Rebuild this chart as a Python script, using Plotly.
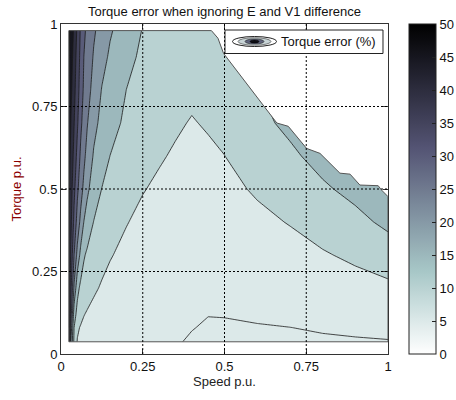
import plotly.graph_objects as go

# ---------------- data ----------------
speed = [0.024, 0.03, 0.04, 0.05, 0.06, 0.07, 0.08, 0.1, 0.125, 0.15, 0.2, 0.25,
         0.3, 0.35, 0.4, 0.45, 0.5, 0.6, 0.7, 0.8, 0.9, 1.0]
torque = [0.037, 0.08, 0.12, 0.2, 0.3, 0.4, 0.5, 0.6, 0.7, 0.8, 0.9, 0.98]

err_t037 = [44, 25, 14.0, 9.7, 9.2, 8.8, 8.5, 8.0, 7.5, 7.1, 6.5, 6.0, 5.6, 5.2, 4.75, 4.5, 4.4, 4.45, 4.55, 4.65, 4.75, 4.85]
err_t08 = [45, 28.3, 15.0, 10.8, 9.6, 9.1, 8.8, 8.3, 7.8, 7.4, 6.9, 6.36, 5.94, 5.52, 5.08, 4.77, 4.74, 4.85, 4.98, 5.24, 5.48, 5.77]
err_t12 = [45.5, 32.5, 17.3, 13.3, 11.6, 10.15, 9.6, 8.9, 8.3, 7.9, 7.3, 6.72, 6.27, 5.83, 5.38, 5.05, 5.09, 5.33, 5.65, 6.03, 6.43, 6.87]
err_t20 = [46, 36.4, 24.3, 16.5, 13.9, 12.8, 11.9, 10.6, 9.6, 9.1, 8.1, 7.44, 6.94, 6.46, 5.99, 5.77, 5.9, 6.4, 6.94, 7.62, 8.33, 9.07]
err_t30 = [46.2, 39.2, 30.0, 23.4, 18.67, 15.5, 14.2, 12.6, 11.2, 10.2, 9.2, 8.34, 7.78, 7.26, 6.75, 6.68, 6.92, 7.73, 8.55, 9.6, 10.83, 12.43]
err_t40 = [46.3, 41.3, 33.75, 28.15, 23.73, 19.9, 18.1, 14.88, 13.3, 12.0, 10.14, 9.24, 8.62, 8.05, 7.52, 7.59, 7.94, 9.07, 10.2, 11.9, 13.6, 16.1]
err_t50 = [46.4, 42.5, 36.25, 31.0, 27.14, 23.8, 20.9, 17.9, 14.9, 13.6, 11.7, 10.16, 9.46, 8.85, 8.28, 8.5, 8.95, 10.48, 12.16, 14.29, 16.4, 19.7]
err_t60 = [47.2, 43.9, 38.5, 33.5, 29.15, 26.1, 23.5, 19.54, 17.2, 14.97, 13.3, 11.5, 10.32, 9.64, 9.04, 9.41, 9.97, 12.1, 14.1, 16.67, 19.2, 23.0]
err_t70 = [47.9, 45.0, 40.2, 35.7, 31.1, 27.98, 25.32, 21.36, 18.68, 16.84, 14.0, 12.6, 11.2, 10.43, 9.8, 10.32, 10.9, 13.7, 16.1, 19.5, 22.0, None]
err_t80 = [50.0, 46.4, 41.5, 37.1, 32.8, 29.23, 26.98, 23.28, 19.77, 18.17, 14.97, 13.3, 12.1, 11.3, 10.68, 10.9, 11.5, 14.7, 18.0, None, None, None]
err_t90 = [51.2, 47.8, 42.6, 37.96, 33.66, 29.96, 28.08, 24.57, 21.58, 19.3, 16.35, 14.1, 13.0, 12.1, 11.6, 11.5, 11.9, 14.9, None, None, None, None]
err_t98 = [52.0, 49.0, 44.0, 39.0, 34.33, 31.0, 28.87, 25.65, 22.94, 20.49, 17.53, 14.8, 13.6, 12.8, 12.3, 12.2, 12.4, 15.0, None, None, None, None]

torque_error = [err_t037, err_t08, err_t12, err_t20, err_t30, err_t40,
                err_t50, err_t60, err_t70, err_t80, err_t90, err_t98]

# operating limit (maximum torque available at each speed)
limit_speed = [0.46, 0.48, 0.497, 0.66, 0.695, 0.751, 0.792, 0.817, 0.853, 0.884, 0.914, 0.970, 0.98, 1.0]
limit_torque = [0.98, 0.957, 0.911, 0.70, 0.69, 0.623, 0.608, 0.583, 0.548, 0.545, 0.512, 0.51, 0.497, 0.477]

tick_vals = [0, 0.25, 0.5, 0.75, 1]
tick_text = ["0", "0.25", "0.5", "0.75", "1"]
cbar_vals = [0, 5, 10, 15, 20, 25, 30, 35, 40, 45, 50]
level_start, level_end, level_step = 5, 50, 5
err_min, err_max = 0, 50

FONT = "Liberation Sans, Arial, sans-serif"
FS = 13


# ---------------- colours: flipped MATLAB "bone" map ----------------
def bone(t):
    hr = min(1.0, t / 0.375)
    hg = min(1.0, max(0.0, (t - 0.375) / 0.375))
    hb = min(1.0, max(0.0, (t - 0.75) / 0.25))
    r = (7 * t + hb) / 8
    g = (7 * t + hg) / 8
    b = (7 * t + hr) / 8
    return "rgb(%d,%d,%d)" % (round(r * 255), round(g * 255), round(b * 255))


def err_color(v):
    return bone(1 - (v - err_min) / (err_max - err_min))


n_steps = 40
cont_scale = [[i / n_steps, err_color(err_min + (err_max - err_min) * i / n_steps)] for i in range(n_steps + 1)]

levels = list(range(level_start, level_end + level_step, level_step))
band_vals = [levels[0]] + levels          # region below first level, then each band
nb = len(band_vals) - 1
band_scale = [[k / nb, err_color(v)] for k, v in enumerate(band_vals)]

fig = go.Figure()

# invisible carrier of the continuous colour bar
fig.add_trace(go.Heatmap(
    x=speed, y=torque, z=torque_error, zmin=err_min, zmax=err_max,
    colorscale=cont_scale, opacity=0, hoverinfo="skip", showscale=True,
    colorbar=dict(x=1.064, xanchor="left", y=0.5, yanchor="middle", len=1.0,
                  lenmode="fraction", thickness=27, thicknessmode="pixels",
                  outlinewidth=1, outlinecolor="#222", xpad=0, ypad=0,
                  tickvals=cbar_vals, ticks="inside", ticklen=4, tickcolor="#222",
                  tickfont=dict(family=FONT, size=FS, color="#111"))))

fig.add_trace(go.Contour(
    x=speed, y=torque, z=torque_error,
    autocontour=False,
    contours=dict(start=level_start, end=level_end, size=level_step,
                  coloring="fill", showlines=True),
    line=dict(color="#1a1a1a", width=0.8, smoothing=0),
    colorscale=band_scale, showscale=False, hoverinfo="skip",
    name="Torque error (%)", showlegend=False))

# blank out the region beyond the operating limit
fig.add_trace(go.Scatter(
    x=limit_speed + [1.2, 1.2, limit_speed[0]],
    y=limit_torque + [limit_torque[-1], 1.2, 1.2],
    mode="lines", fill="toself", fillcolor="white",
    line=dict(width=0, color="white"), hoverinfo="skip", showlegend=False))

# outline of the computed domain
fig.add_trace(go.Scatter(
    x=[speed[0], speed[0]] + limit_speed + [speed[-1], speed[0]],
    y=[torque[0], torque[-1]] + limit_torque + [torque[0], torque[0]],
    mode="lines", line=dict(color="#555", width=1), hoverinfo="skip",
    showlegend=False))

shapes = []
for v in tick_vals[1:-1]:
    shapes.append(dict(type="line", xref="x", yref="y", x0=v, x1=v, y0=0, y1=1,
                       line=dict(color="black", width=1, dash="2px,2px"), layer="above"))
    shapes.append(dict(type="line", xref="x", yref="y", x0=0, x1=1, y0=v, y1=v,
                       line=dict(color="black", width=1, dash="2px,2px"), layer="above"))

# legend box with contour icon
shapes.append(dict(type="rect", xref="paper", yref="paper", x0=0.5015, x1=0.9847,
                   y0=0.9106, y1=0.9818, fillcolor="white",
                   line=dict(color="#222", width=1), layer="above"))
icon = [
    (0.5245, 0.6590, 0.9318, 0.9621, "white", "#222", 1),
    (0.5413, 0.6422, 0.9356, 0.9583, "rgb(200,212,214)", "#333", 0.6),
    (0.5627, 0.6208, 0.9394, 0.9545, "rgb(95,100,125)", "#222", 0.6),
    (0.5780, 0.6055, 0.9424, 0.9515, "rgb(12,12,18)", "#000", 0.5),
]
for x0, x1, y0, y1, fc, lc, lw in icon:
    shapes.append(dict(type="circle", xref="paper", yref="paper", x0=x0, x1=x1,
                       y0=y0, y1=y1, fillcolor=fc, line=dict(color=lc, width=lw),
                       layer="above"))

fig.update_layout(
    width=456, height=400,
    margin=dict(l=61, r=68, t=24, b=46, autoexpand=False),
    paper_bgcolor="white", plot_bgcolor="white",
    font=dict(family=FONT, size=FS, color="#111"),
    title=dict(text="Torque error when ignoring E and V1 difference",
               x=0.5, xref="paper", xanchor="center",
               y=1 - 11 / 400, yref="container", yanchor="middle",
               font=dict(family=FONT, size=FS, color="#111")),
    xaxis=dict(range=[0, 1], tickvals=tick_vals, ticktext=tick_text,
               ticks="inside", ticklen=5, tickcolor="#333", showline=True,
               linecolor="#333", linewidth=1, mirror="ticks", showgrid=False,
               zeroline=False, tickfont=dict(size=FS, color="#111"),
               title=dict(text="Speed p.u.", standoff=3,
                          font=dict(size=FS, color="#222"))),
    yaxis=dict(range=[0, 1], tickvals=tick_vals, ticktext=tick_text,
               ticks="inside", ticklen=5, tickcolor="#333", showline=True,
               linecolor="#333", linewidth=1, mirror="ticks", showgrid=False,
               zeroline=False, tickfont=dict(size=FS, color="#111"),
               title=dict(text="Torque p.u.", standoff=7,
                          font=dict(size=FS, color="#8b0000"))),
    shapes=shapes,
    annotations=[dict(text="Torque error (%)", xref="paper", yref="paper",
                      x=0.6667, y=0.9462, xanchor="left", yanchor="middle",
                      showarrow=False, font=dict(family=FONT, size=FS, color="#111"))],
    showlegend=False,
)

# remove the default page margin so the figure sits at the window's corner
fig.write_html("out.html", config={"displayModeBar": False},
               post_script="document.body.style.margin='0px';")
